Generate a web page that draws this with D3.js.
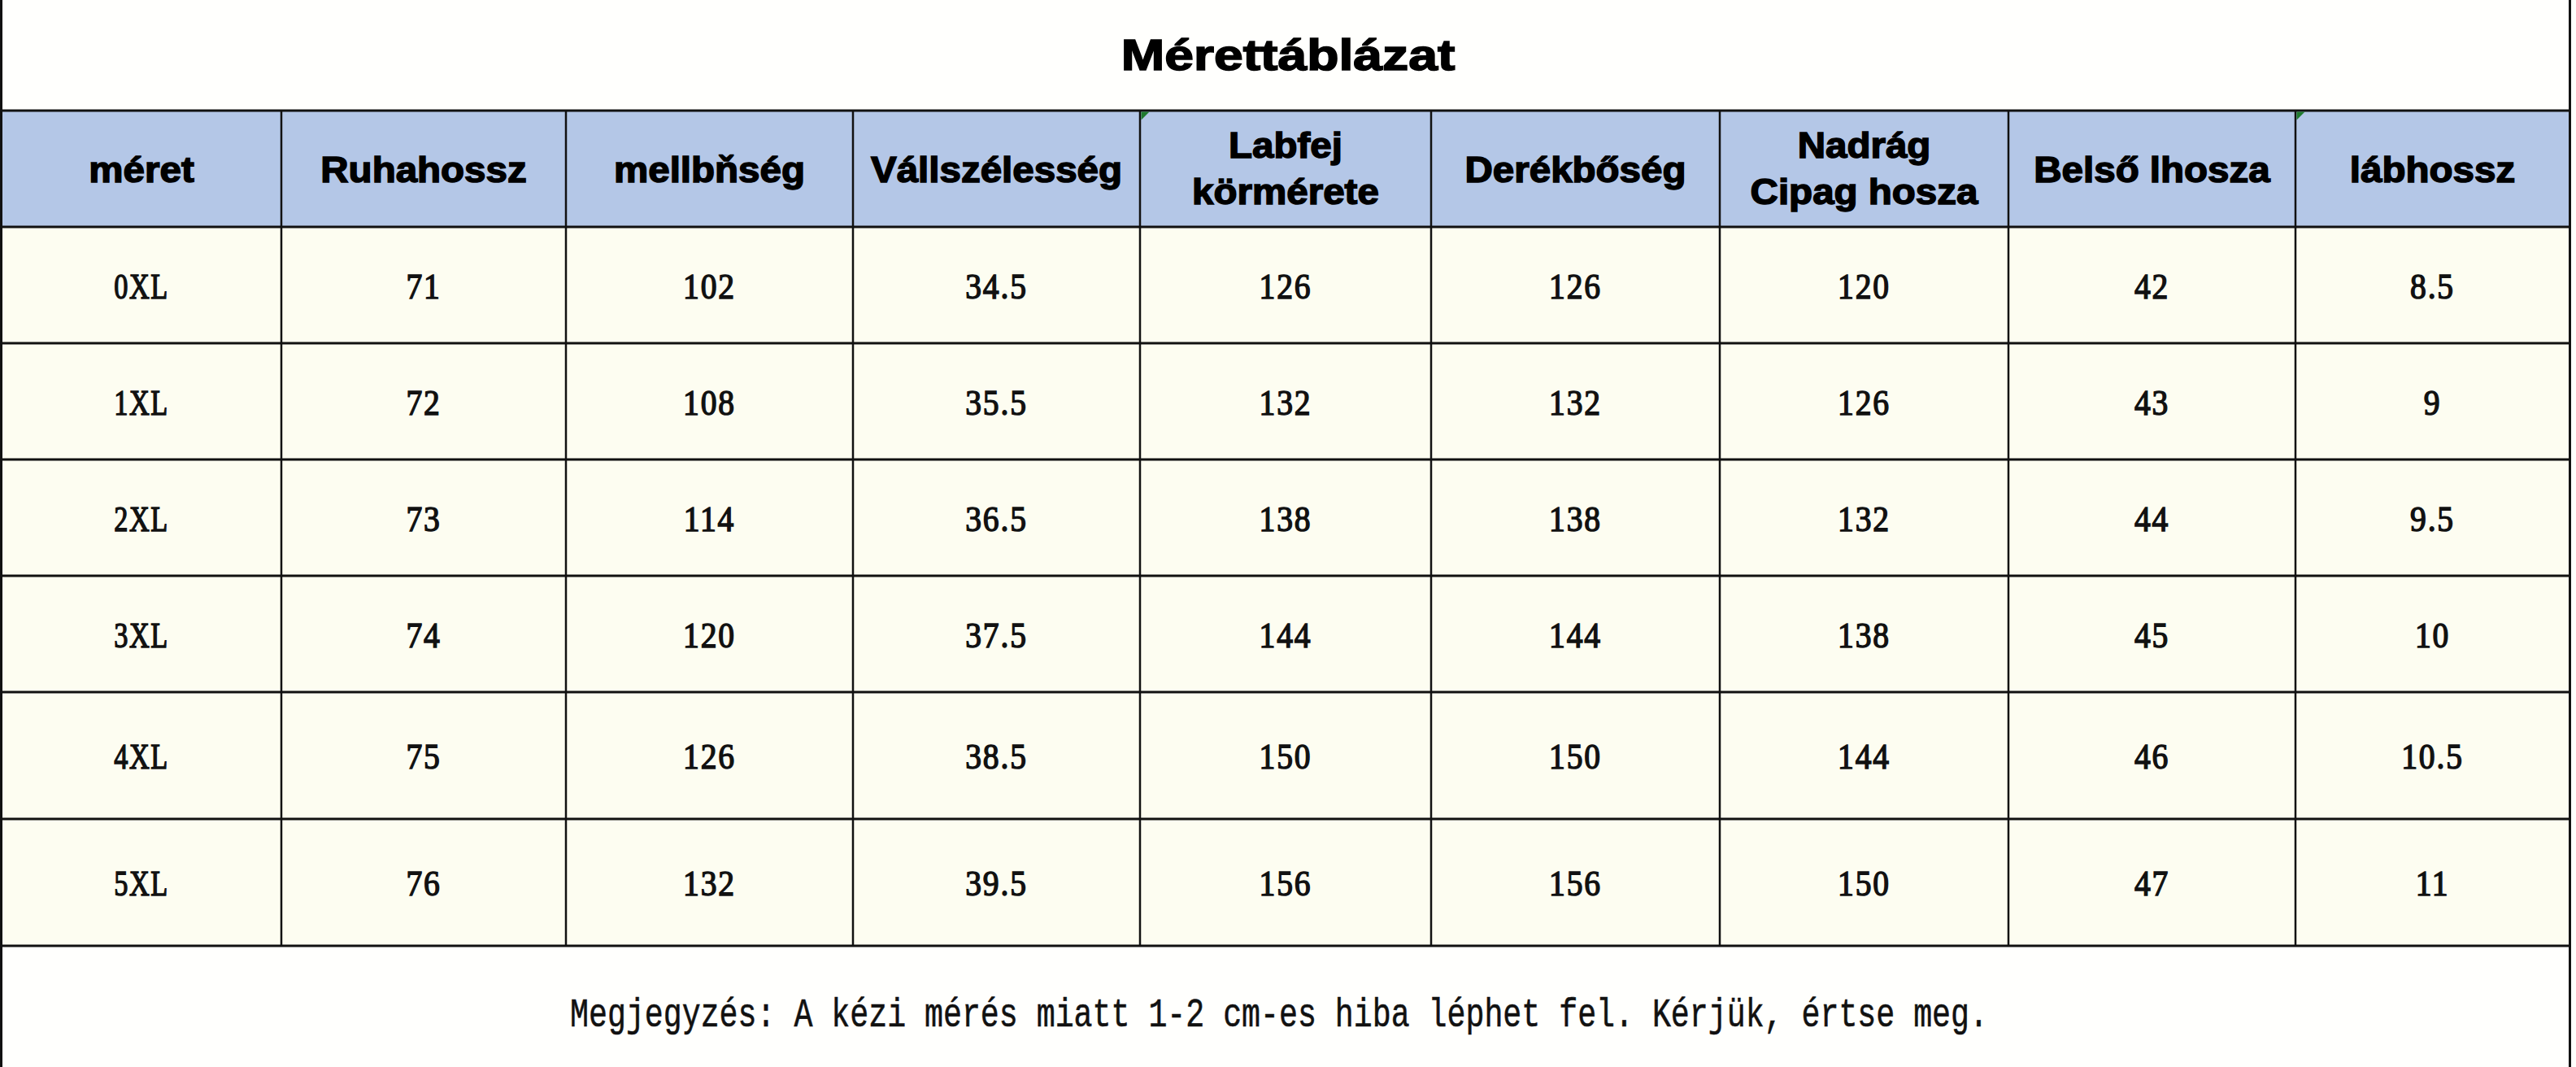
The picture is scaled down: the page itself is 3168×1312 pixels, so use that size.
<!DOCTYPE html>
<html>
<head>
<meta charset="utf-8">
<script src="https://cdn.jsdelivr.net/npm/d3@7"></script>
<style>
  html, body { margin: 0; padding: 0; background: #fffffd; }
  svg { display: block; }
</style>
</head>
<body>
<script>
// ---------- data ----------
const title = "Mérettáblázat";
const headers = [
  ["méret"], ["Ruhahossz"], ["mellbňség"], ["Vállszélesség"],
  ["Labfej", "körmérete"], ["Derékbőség"], ["Nadrág", "Cipag hosza"],
  ["Belső lhosza"], ["lábhossz"]
];
const sizes = ["0XL", "1XL", "2XL", "3XL", "4XL", "5XL"];
const ruhahossz = ["71", "72", "73", "74", "75", "76"];
const mellboseg = ["102", "108", "114", "120", "126", "132"];
const vallszelesseg = ["34.5", "35.5", "36.5", "37.5", "38.5", "39.5"];
const labfej = ["126", "132", "138", "144", "150", "156"];
const derekboseg = ["126", "132", "138", "144", "150", "156"];
const nadrag = ["120", "126", "132", "138", "144", "150"];
const belsoHossz = ["42", "43", "44", "45", "46", "47"];
const labhossz = ["8.5", "9", "9.5", "10", "10.5", "11"];
const flaggedColumns = [4, 8];
const note = "Megjegyzés: A kézi mérés miatt 1-2 cm-es hiba léphet fel. Kérjük, értse meg.";

// ---------- layout ----------
(function () {
const W = 3168, H = 1312;
const columns = [sizes, ruhahossz, mellboseg, vallszelesseg, labfej, derekboseg, nadrag, belsoHossz, labhossz];
const colUnits = [344, 350, 353, 353, 358, 355, 355, 353, 337];
const rowUnits = [143, 143, 143, 143, 143, 156, 156]; // header + 6 rows
const leftX = 2, rightX = 3160, topY = 136;

const colEdgesU = [0]; colUnits.forEach(u => colEdgesU.push(colEdgesU[colEdgesU.length - 1] + u));
const rowEdgesU = [0]; rowUnits.forEach(u => rowEdgesU.push(rowEdgesU[rowEdgesU.length - 1] + u));
const x = d3.scaleLinear().domain([0, colEdgesU[colEdgesU.length - 1]]).range([leftX, rightX]);
const y = d3.scaleLinear().domain([0, rowEdgesU[rowEdgesU.length - 1]]).range([topY, topY + rowEdgesU[rowEdgesU.length - 1]]);
const bottomY = y(rowEdgesU[rowEdgesU.length - 1]);

const svg = d3.select("body").append("svg").attr("width", W).attr("height", H);
svg.append("rect").attr("width", W).attr("height", H).attr("fill", "#fffffd");

// title
svg.append("text")
  .attr("transform", `translate(${(leftX + rightX) / 2 + 3},86) scale(1.19,1)`)
  .attr("text-anchor", "middle")
  .attr("font-family", "Liberation Sans, Arial, sans-serif")
  .attr("font-weight", "bold")
  .attr("font-size", 54)
  .attr("stroke", "#000").attr("stroke-width", 1.6)
  .attr("fill", "#000")
  .text(title);

// header backgrounds
svg.append("g").selectAll("rect").data(headers).join("rect")
  .attr("x", (d, i) => x(colEdgesU[i]))
  .attr("y", y(rowEdgesU[0]))
  .attr("width", (d, i) => x(colEdgesU[i + 1]) - x(colEdgesU[i]))
  .attr("height", y(rowEdgesU[1]) - y(rowEdgesU[0]))
  .attr("fill", "#b4c7e7");

// data backgrounds
const bodyG = svg.append("g");
sizes.forEach((s, r) => {
  bodyG.append("g").selectAll("rect").data(columns).join("rect")
    .attr("x", (d, i) => x(colEdgesU[i]))
    .attr("y", y(rowEdgesU[r + 1]))
    .attr("width", (d, i) => x(colEdgesU[i + 1]) - x(colEdgesU[i]))
    .attr("height", y(rowEdgesU[r + 2]) - y(rowEdgesU[r + 1]))
    .attr("fill", "#fdfdf1");
});

// header text
const hc = y(rowEdgesU[0]) + (y(rowEdgesU[1]) - y(rowEdgesU[0])) / 2;
headers.forEach((lines, i) => {
  const cx = (x(colEdgesU[i]) + x(colEdgesU[i + 1])) / 2;
  lines.forEach((ln, j) => {
    const by = lines.length === 1 ? hc + 16 : hc + 14.5 + (j - 0.5) * 57;
    svg.append("text")
      .attr("transform", `translate(${cx},${by}) scale(1.08,1)`)
      .attr("text-anchor", "middle")
      .attr("font-family", "Liberation Sans, Arial, sans-serif")
      .attr("font-weight", "bold")
      .attr("font-size", 44)
      .attr("stroke", "#000").attr("stroke-width", 1.5)
      .attr("fill", "#000")
      .text(ln);
  });
});

// cell text
columns.forEach((col, i) => {
  const cx = (x(colEdgesU[i]) + x(colEdgesU[i + 1])) / 2;
  col.forEach((v, r) => {
    const cy = (y(rowEdgesU[r + 1]) + y(rowEdgesU[r + 2])) / 2;
    const sx = i === 0 ? 0.78 : 0.9;
    svg.append("text")
      .attr("transform", `translate(${cx},${cy + 16}) scale(${sx},1)`)
      .attr("text-anchor", "middle")
      .attr("font-family", "Liberation Serif, Times New Roman, serif")
      .attr("font-size", 44)
      .attr("stroke", "#111").attr("stroke-width", 1.5)
      .attr("fill", "#111")
      .attr("letter-spacing", 2)
      .text(v);
  });
});

// grid lines
const gridG = svg.append("g").attr("stroke", "#111");
gridG.append("g").selectAll("line").data(rowEdgesU).join("line")
  .attr("x1", leftX).attr("x2", rightX)
  .attr("y1", d => y(d)).attr("y2", d => y(d))
  .attr("stroke-width", 3);
gridG.append("g").selectAll("line").data(colEdgesU.slice(1, -1)).join("line")
  .attr("x1", d => x(d)).attr("x2", d => x(d))
  .attr("y1", topY).attr("y2", bottomY)
  .attr("stroke-width", 2.5);
gridG.append("line").attr("x1", 1.5).attr("x2", 1.5).attr("y1", 0).attr("y2", H).attr("stroke-width", 3);
gridG.append("line").attr("x1", rightX + 0.5).attr("x2", rightX + 0.5).attr("y1", 0).attr("y2", H).attr("stroke-width", 3);

// green flag triangles
svg.append("g").selectAll("path").data(flaggedColumns).join("path")
  .attr("d", d => {
    const px = x(colEdgesU[d]) + 1.5, py = topY + 1.5;
    return `M${px},${py} L${px + 10},${py} L${px},${py + 10} Z`;
  })
  .attr("fill", "#1f7a2e");

// footnote
svg.append("text")
  .attr("transform", `translate(1573,1262) scale(0.765,1)`)
  .attr("text-anchor", "middle")
  .attr("font-family", "Liberation Mono, Courier New, monospace")
  .attr("font-size", 50)
  .attr("stroke", "#111").attr("stroke-width", 0.6)
  .attr("fill", "#111")
  .text(note);
})();
</script>
</body>
</html>
